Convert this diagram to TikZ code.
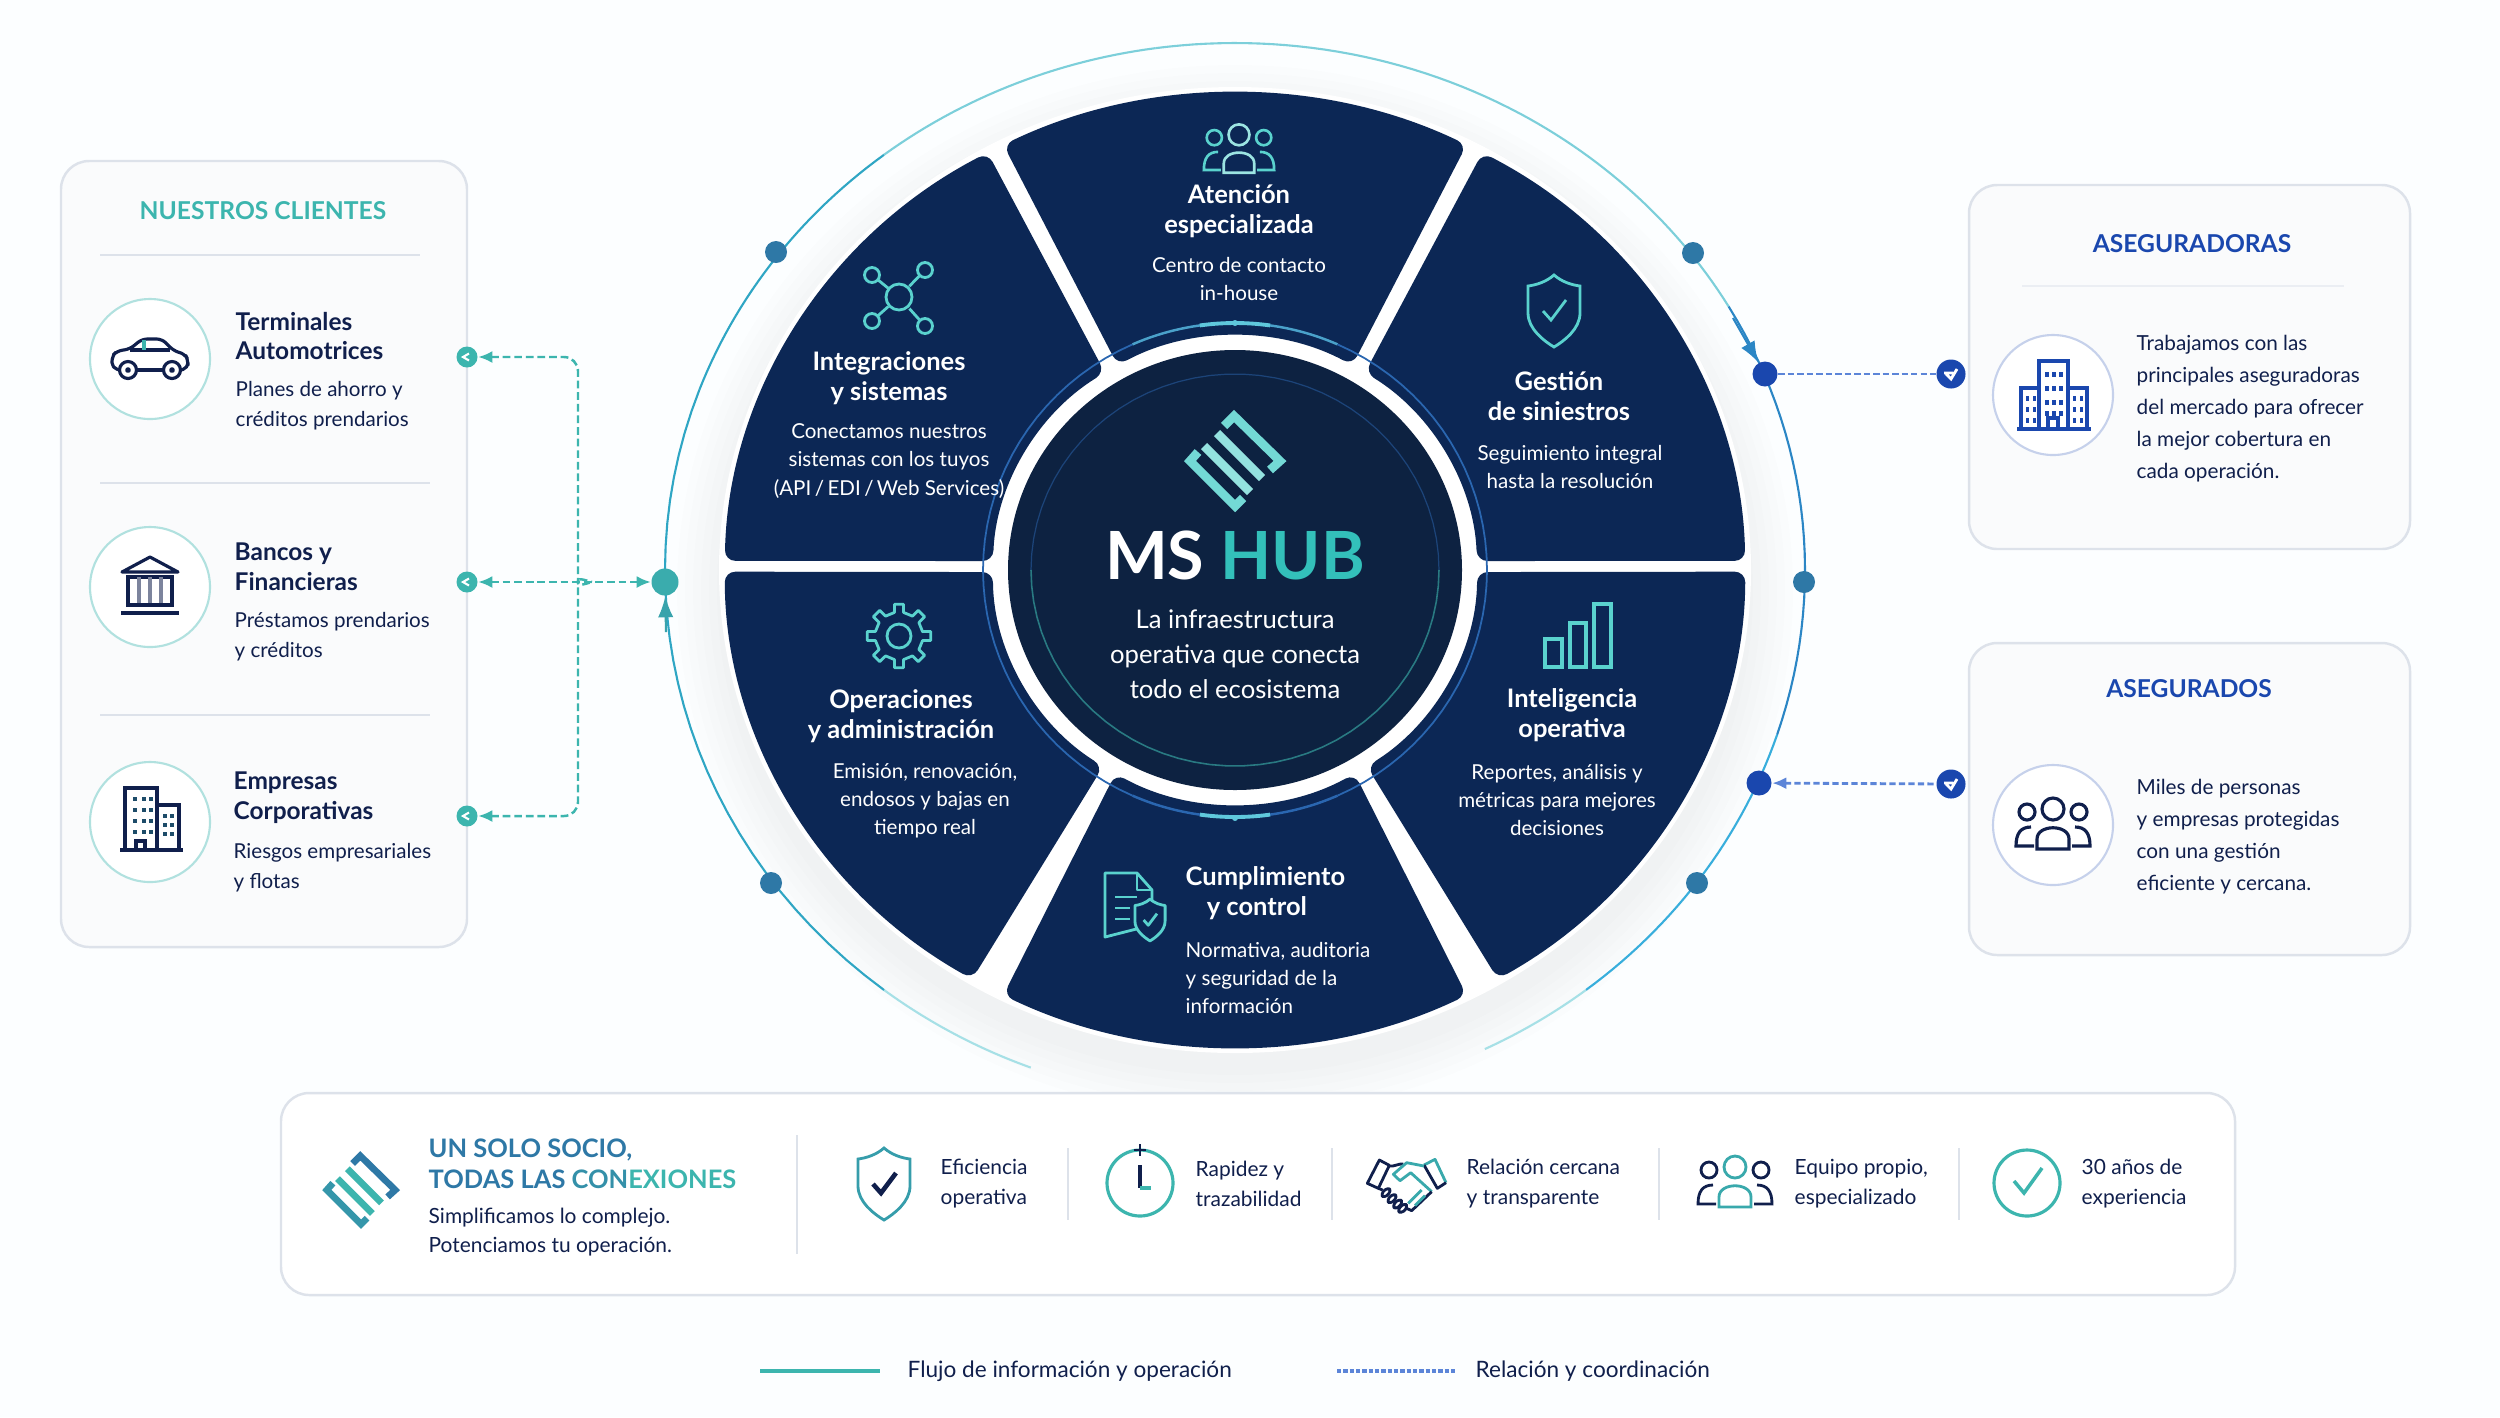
\documentclass[tikz,border=0pt]{standalone}
\usepackage{fontspec}
\setmainfont{Lato}
\usepackage{xcolor}
\usetikzlibrary{arrows.meta}
\definecolor{navy}{HTML}{101F4C}
\definecolor{segnavy}{HTML}{0C2755}
\definecolor{hubnavy}{HTML}{0D2241}
\definecolor{tealc}{HTML}{3CB5AE}
\definecolor{icont}{HTML}{5AD2CE}
\definecolor{bluec}{HTML}{1A47AE}
\definecolor{dashblue}{HTML}{5C85D8}
\definecolor{dotc}{HTML}{2E78A6}
\definecolor{linec}{HTML}{DDE2EA}
\definecolor{panelc}{HTML}{FAFBFC}
\definecolor{ringpale}{HTML}{A6E0E6}
\definecolor{ringteal}{HTML}{2FA6C4}
\definecolor{ringtop}{HTML}{7CCFDA}
\definecolor{ringblue}{HTML}{2B86C5}
\definecolor{ringsky}{HTML}{38AEDC}
\definecolor{hubblue}{HTML}{2A66B0}
\definecolor{hubcyan}{HTML}{5FC8DC}
% logo, position, scale, line width, colours
\newcommand{\logomark}[7]{%
  \begin{scope}[shift={(#1,#2)},scale=#3,line width=#4,miter limit=4]
    \draw[#5] (-11,-35) -- (-1,-45) -- (45,0) -- (35,9);
    \draw[#6] (-37,-9) -- (-45,0) -- (0,45) -- (8,37);
    \draw[#7] (-18,-28) -- (27,17);
    \draw[#7] (-31,-15) -- (15,31);
  \end{scope}}
% team, position, scale, colours
\newcommand{\teamicon}[5]{%
  \begin{scope}[shift={(#1,#2)},scale=#3]
    \draw[#4] (0,-16) circle (11);
    \draw[#5] (-26,-13) circle (8) (26,-13) circle (8);
    \draw[#4] (-16,24) -- (-16,14) .. controls (-16,-1) and (16,-1) .. (16,14) -- (16,24) -- cycle;
    \draw[#5] (-22,2) .. controls (-32,2) and (-37,8) .. (-37,21) -- (-19,21);
    \draw[#5] (22,2) .. controls (32,2) and (37,8) .. (37,21) -- (19,21);
  \end{scope}}
% shield, position, scale, colours, fill
\newcommand{\shieldicon}[6]{%
  \begin{scope}[shift={(#1,#2)},scale=#3]
    \draw[#4,fill=#6] (0,-36) .. controls (8,-29) and (18,-26) .. (26,-25) -- (26,2)
      .. controls (26,18) and (10,30) .. (0,36) .. controls (-10,30) and (-26,18) .. (-26,2)
      -- (-26,-25) .. controls (-18,-26) and (-8,-29) .. cycle;
    \draw[#5] (-11,0) -- (-3,9) -- (12,-11);
  \end{scope}}
% one wheel segment: outer angles, inner angles
\newcommand{\segment}[4]{%
  \fill[segnavy,rounded corners=3pt] (#1:5.10cm and 4.77cm)
    arc[start angle=#1,end angle=#2,x radius=5.10cm,y radius=4.77cm]
    -- (#3:2.42cm and 2.34cm)
    arc[start angle=#3,end angle=#4,x radius=2.42cm,y radius=2.34cm] -- cycle;}

\begin{document}
\begin{tikzpicture}[x=0.01cm,y=-0.01cm,>=Latex,
    every node/.style={inner sep=0pt,text=navy},
    paneltitle/.style={font=\fontsize{7}{9}\selectfont\bfseries},
    clientname/.style={anchor=west,align=left,font=\fontsize{6.95}{8.5}\selectfont\bfseries},
    clientdesc/.style={anchor=west,align=left,font=\fontsize{5.85}{8.5}\selectfont},
    segtitle/.style={align=center,text=white,font=\fontsize{7.25}{8.4}\selectfont\bfseries},
    segdesc/.style={align=center,text=white,font=\fontsize{5.85}{8}\selectfont},
    bartext/.style={anchor=west,align=left,font=\fontsize{5.95}{8.5}\selectfont},
    sidetext/.style={anchor=west,align=left,font=\fontsize{5.9}{9.1}\selectfont},
    legendtext/.style={anchor=west,font=\fontsize{6.42}{8}\selectfont},
    panelbox/.style={draw=linec,line width=0.7pt,fill=#1,rounded corners=8pt},
    iconcircle/.style={draw=#1,line width=0.6pt,fill=white},
    divline/.style={linec,line width=0.5pt},
    tealdot/.style={circle,fill=tealc,minimum size=0.21cm},
    ringdot/.style={circle,fill=dotc,minimum size=0.22cm},
    bluedot/.style={circle,fill=bluec,minimum size=#1},
    tealflow/.style={tealc,line width=0.7pt,dash pattern=on 2.2pt off 1.1pt},
    blueflow/.style={dashblue,line width=0.8pt,dash pattern=on 1.8pt off 0.9pt},
    tealtip/.style={tealc,{Latex[length=4pt,width=3.4pt]}-},
  ]
  \useasboundingbox (0,0) rectangle (2500,1417);
  \fill[white!99!cyan] (0,0) rectangle (2500,1417);

  % left panel
  \draw[panelbox=panelc] (61,161) rectangle (467,947);
  \node[paneltitle,text=tealc] (clientes) at (263,211) {NUESTROS CLIENTES};
  \draw[divline] (100,255) -- (420,255);
  \draw[divline] (100,483) -- (430,483);
  \draw[divline] (100,715) -- (430,715);
  \foreach \cy in {359,587,822}
    \draw[iconcircle=tealc!40] (150,\cy) circle (60);
  \node[clientname] (terminales) at (235,336) {Terminales\\Automotrices};
  \node[clientdesc] (terminalesd) at (235,406) {Planes de ahorro y\\créditos prendarios};
  \node[clientname] (bancos) at (234,567) {Bancos y\\Financieras};
  \node[clientdesc] (bancosd) at (234,637) {Préstamos prendarios\\y créditos};
  \node[clientname] (empresas) at (233,798) {Empresas\\Corporativas};
  \node[clientdesc] (empresasd) at (233,868) {Riesgos empresariales\\y flotas};
  % car
  \begin{scope}[shift={(150,359)},navy,line width=0.9pt,line join=round]
    \draw[rounded corners=1.5pt] (-30,11) -- (-38,9) -- (-38,-3) -- (-33,-8) -- (-20,-10) -- (-8,-20) -- (12,-20) -- (24,-8) -- (35,-5) -- (38,1) -- (38,9) -- (31,11);
    \draw (-13,11) -- (13,11);
    \draw (-22,11) circle (8.5) (22,11) circle (8.5);
    \draw[fill=navy] (-22,11) circle (1.5) (22,11) circle (1.5);
    \draw (-20,-9) -- (20,-9);
    \draw[tealc] (-6,-19) -- (-6,-9);
  \end{scope}
  % bank
  \begin{scope}[shift={(150,585)},navy,line width=0.9pt,line join=round]
    \draw (-28,-13) -- (0,-28) -- (28,-13) -- cycle;
    \draw (-24,-8) -- (24,-8);
    \foreach \cx in {-22,22} \draw (\cx,-8) -- (\cx,20);
    \foreach \cx in {-11,0,11} \draw[navy!55] (\cx,-8) -- (\cx,20);
    \draw (-24,20) -- (24,20);
    \draw[line width=1.3pt] (-29,28) -- (29,28);
  \end{scope}
  % office block
  \begin{scope}[shift={(150,819)},navy,line width=0.9pt]
    \draw (-25,31) -- (-25,-31) -- (7,-31) -- (7,31);
    \draw (7,-14) -- (29,-14) -- (29,31);
    \draw (-30,31) -- (33,31);
    \foreach \wy in {-22,-11,0,11}
      \foreach \wx in {-17,-8,-1}
        \fill[navy!70!tealc] (\wx,\wy) rectangle +(4,4);
    \foreach \wy in {-5,4,13}
      \foreach \wx in {13,20}
        \fill[navy!70!tealc] (\wx,\wy) rectangle +(4,4);
    \draw (-14,31) -- (-14,22) -- (-5,22) -- (-5,31);
  \end{scope}

  % wheel
  \foreach \grow in {8,16,...,48}
    \fill[navy,opacity=0.008] (1235,590) ellipse ({510+\grow} and {477+\grow});
  \fill[white] (1235,570) ellipse (516 and 483);
  \foreach \ta/\tb/\tc in {111/128/ringpale,128/200/ringteal,200/232/ringteal,232/262/ringtop,262/300/ringtop,300/330/ringtop,330/378/ringblue,378/412/ringsky,412/424/ringpale}
    \draw[\tc,line width=0.6pt] plot[domain=\ta:\tb,samples=30] ({1235+570*cos(\x)},{570+(sin(\x)>0?533:527)*sin(\x)});
  \begin{scope}[shift={(1235,570)}]
    \segment{178.9}{119}{122.5}{177.8}
    \segment{117}{63}{61}{119}
    \segment{1.1}{61}{57.5}{2.2}
    \segment{180.2}{239}{237}{180.5}
    \segment{243}{297}{299.6}{240.4}
    \segment{-0.2}{-59}{-57}{-0.5}
    \fill[hubnavy] (0,0) ellipse (227 and 220);
  \end{scope}
  % rings round the hub
  \foreach \ta/\tb/\tc/\lw in {0/66/hubblue/0.5,66/82/hubblue/0.7,82/98/hubcyan/1.1,98/114/hubblue/0.7,114/180/hubblue/0.5,180/246/hubblue/0.5,246/262/hubcyan!60!hubblue/0.7,262/278/hubcyan/1.1,278/294/hubcyan!60!hubblue/0.7,294/360/hubblue/0.5}
    \draw[\tc,line width=\lw pt] plot[domain=\ta:\tb,samples=20] ({1235+252*cos(\x)},{570+247*sin(\x)});
  \draw[hubblue!50!hubnavy,line width=0.35pt] plot[domain=180:360,samples=40] ({1235+204*cos(\x)},{570+196*sin(\x)});
  \draw[tealc!60!hubnavy,line width=0.45pt] plot[domain=0:180,samples=40] ({1235+204*cos(\x)},{570+196*sin(\x)});

  % hub text
  \logomark{1235}{461}{1}{2.5pt}{icont!85!white}{icont!85!white}{icont!65!white}
  \node[text=white,font=\fontsize{18.9}{22}\selectfont\bfseries] (mshub) at (1235,555) {MS \textcolor{tealc!85!cyan}{HUB}};
  \node[align=center,text=white,font=\fontsize{7.3}{9.9}\selectfont] (hubtext) at (1235,654) {La infraestructura\\operativa que conecta\\todo el ecosistema};

  % segment texts
  \node[segtitle] (atencion) at (1239,211) {Atención\\especializada};
  \node[segdesc] (atenciond) at (1239,279) {Centro de contacto\\in-house};
  \node[segtitle] (integra) at (889,378) {Integraciones\\y sistemas};
  \node[segdesc] (integrad) at (889,461) {Conectamos nuestros\\sistemas con los tuyos\\(API\,/\,EDI\,/\,Web Services)};
  \node[segtitle] (gestion) at (1559,396) {Gestión\\de siniestros};
  \node[segdesc] (gestiond) at (1570,467) {Seguimiento integral\\hasta la resolución};
  \node[segtitle] (opera) at (901,716) {Operaciones\\y administración};
  \node[segdesc] (operad) at (925,801) {Emisión, renovación,\\endosos y bajas en\\tiempo real};
  \node[segtitle] (intel) at (1572,715) {Inteligencia\\operativa};
  \node[segdesc] (inteld) at (1557,800) {Reportes, análisis y\\métricas para mejores\\decisiones};
  \node[segtitle,anchor=west,align=left] (cumple) at (1185,893) {Cumplimiento\\\hspace*{6pt}y control};
  \node[segdesc,anchor=west,align=left] (cumpled) at (1185,978) {Normativa, auditoria\\y seguridad de la\\información};

  % segment icons
  \teamicon{1239}{150}{0.95}{icont!60!white,line width=0.75pt}{icont,line width=0.75pt}
  \begin{scope}[shift={(899,297)},icont,line width=0.8pt]
    \draw (0,0) circle (13);
    \foreach \px/\py in {-27/-22,26/-27,-27/24,26/29} {
      \draw (\px,\py) circle (7.5);
      \draw (0.4*\px,0.4*\py) -- (0.78*\px,0.78*\py);
    }
  \end{scope}
  \shieldicon{1554}{311}{1}{icont,line width=0.8pt}{icont,line width=0.8pt}{segnavy}
  \begin{scope}[shift={(899,636)},icont,line width=0.8pt,line join=round]
    \draw (-10:24) \foreach \a in {0,45,...,315} { -- (\a-11:24) -- (\a-8:32) -- (\a+8:32) -- (\a+11:24) } -- cycle;
    \draw (0,0) circle (12);
  \end{scope}
  \draw[icont,line width=0.9pt] (1545,639) rectangle (1562,667) (1570,623) rectangle (1586,667) (1594,604) rectangle (1611,667);
  \begin{scope}[icont,line width=0.8pt,line join=round]
    \draw (1105,873) -- (1137,873) -- (1152,890) -- (1152,925) -- (1105,937) -- cycle;
    \draw (1137,873) -- (1137,890) -- (1152,890);
    \draw (1115,897) -- (1137,897) (1115,908) -- (1130,908) (1115,919) -- (1130,919);
    \shieldicon{1150}{920}{0.58}{icont}{icont}{segnavy}
  \end{scope}

  % outer ring points
  \node[ringdot] (ringa) at (776,252) {};
  \node[ringdot] (ringb) at (1693,253) {};
  \node[ringdot] (ringc) at (771,883) {};
  \node[ringdot] (ringd) at (1697,883) {};
  \node[ringdot] (ringe) at (1804,582) {};
  \node[tealdot,minimum size=0.27cm,fill=tealc!85!dotc] (hubport) at (665,582) {};
  \node[bluedot=0.25cm] (seguros) at (1765,374) {};
  \node[bluedot=0.25cm] (asegura) at (1759,783) {};
  \coordinate (ringtail) at (1733,318);
  \coordinate (porttail) at (666,632);
  \draw[ringblue,line width=0.6pt,-{Latex[length=6pt,width=4.4pt]}] (ringtail) -- (seguros);
  \draw[tealc!70!dotc,line width=0.6pt,-{Latex[length=6pt,width=4.4pt]}] (porttail) -- (hubport);

  % left connectors
  \node[tealdot] (clienta) at (467,357) {};
  \node[tealdot] (clientb) at (467,582) {};
  \node[tealdot] (clientc) at (467,816) {};
  \coordinate (busup) at (578,570);
  \coordinate (busdown) at (578,594);
  \coordinate (busmid) at (592,582);
  \draw[tealflow,tealtip,rounded corners=4pt] (clienta) -| (busup) .. controls (578,578) .. (busmid);
  \draw[tealflow,tealtip,rounded corners=4pt] (clientc) -| (busdown) .. controls (578,586) .. (busmid);
  \draw[tealflow,{Latex[length=4pt,width=3.4pt]}-{Latex[length=4pt,width=3.4pt]}] (clientb) -- (hubport);
  \foreach \dy in {357,582,816}
    \draw[white,line width=0.6pt] (469,\dy-3.5) -- (463,\dy) -- (469,\dy+3.5);

  % right panels
  \draw[panelbox=panelc] (1969,185) rectangle (2410,549);
  \draw[panelbox=panelc] (1969,643) rectangle (2410,955);
  \node[paneltitle,text=bluec] (aseguradoras) at (2192,244) {ASEGURADORAS};
  \draw[divline,linec!60] (2022,286) -- (2344,286);
  \node[paneltitle,text=bluec] (asegurados) at (2189,689) {ASEGURADOS};
  \draw[iconcircle=bluec!25] (2053,395) circle (60);
  \draw[iconcircle=bluec!25] (2053,825) circle (60);
  \node[sidetext] (trabajamos) at (2136,409) {Trabajamos con las\\principales aseguradoras\\del mercado para ofrecer\\la mejor cobertura en\\cada operación.};
  \node[sidetext] (miles) at (2136,837) {Miles de personas\\y empresas protegidas\\con una gestión\\eficiente y cercana.};
  \begin{scope}[bluec,line width=0.9pt]
    \draw (2039,429) -- (2039,361) -- (2068,361) -- (2068,429);
    \draw (2039,388) -- (2021,388) -- (2021,429) (2068,388) -- (2087,388) -- (2087,429);
    \draw (2017,429) -- (2091,429);
    \foreach \wy in {372,386,400,411}
      \foreach \wx in {2045,2052,2059}
        \fill (\wx,\wy) rectangle +(4,5);
    \foreach \wy in {396,407,418}
      \foreach \wx in {2026,2033,2073,2080}
        \fill (\wx,\wy) rectangle +(3,5);
    \draw (2048,429) -- (2048,418) -- (2058,418) -- (2058,429);
  \end{scope}
  \teamicon{2053}{825}{1}{navy,line width=0.9pt}{navy,line width=0.9pt}

  % right connectors
  \node[bluedot=0.29cm] (linka) at (1951,374) {};
  \node[bluedot=0.29cm] (linkb) at (1951,784) {};
  \draw[blueflow] (seguros) -- (linka);
  \draw[blueflow,{Latex[length=4pt,width=3.4pt]}-] (asegura) -- (linkb);
  \foreach \dy in {374,784}
    \draw[white,line width=0.8pt] (1946,\dy+0) -- (1951,\dy+5) -- (1957,\dy-5) (1944,\dy-1) -- (1953,\dy-1);
  \fill[hubcyan] (1235,323) circle (3);
  \fill[hubcyan] (1235,818) circle (3);

  % bottom panel
  \draw[panelbox=white] (281,1093) rectangle (2235,1295);
  \logomark{361}{1190}{0.76}{1.9pt}{dotc}{dotc!50!tealc}{tealc}
  \node[anchor=west,align=left,text=dotc,font=\fontsize{7.24}{8.8}\selectfont\bfseries] (socio) at (428,1164) {UN SOLO SOCIO,\\TODAS LAS \textcolor{dotc!60!tealc}{CON}\textcolor{tealc}{EXIONES}};
  \node[anchor=west,align=left,font=\fontsize{5.95}{8.2}\selectfont] (simple) at (428,1232) {Simplificamos lo complejo.\\Potenciamos tu operación.};
  \draw[divline] (797,1135) -- (797,1254);
  \foreach \dx in {1068,1332,1659,1959}
    \draw[divline] (\dx,1148) -- (\dx,1220);
  \shieldicon{884}{1184}{1}{tealc!60!dotc,line width=0.8pt}{navy,line width=1.3pt}{white}
  \node[bartext] (eficiencia) at (940,1184) {Eficiencia\\operativa};
  \draw[tealc,line width=0.9pt] (1140,1183) circle (33);
  \draw[navy,line width=0.9pt] (1140,1165) -- (1140,1188);
  \draw[tealc,line width=0.9pt] (1140,1188) -- (1151,1188);
  \draw[navy,line width=0.7pt] (1140,1144) -- (1140,1156) (1134,1150) -- (1146,1150);
  \node[bartext] (rapidez) at (1195,1184) {Rapidez y\\trazabilidad};
  % handshake
  \begin{scope}[shift={(1350,1140)},scale=0.3333,line width=0.8pt,line join=round]
    \draw[navy] (52,130) -- (88,60) -- (118,76) -- (85,145) -- cycle;
    \draw[tealc!80!dotc] (222,75) -- (255,58) -- (288,128);
    \draw[navy] (288,128) -- (262,145) -- (222,75);
    \draw[navy] (118,78) .. controls (135,80) and (145,70) .. (160,72);
    \draw[tealc!80!dotc] (222,78) -- (170,68) -- (130,103) -- (150,122) -- (182,98) -- (245,155);
    \draw[navy] (245,155) -- (185,212) -- (170,205);
    \draw[navy] (85,145) -- (98,150);
    \foreach \px/\py in {108/158,126/176,143/192,158/205}
      \draw[navy,shift={(\px,\py)},rotate=-45,rounded corners=1pt] (-8,-15) rectangle (8,15);
    \draw[tealc!80!dotc] (175,190) -- (215,150) (195,197) -- (225,167);
  \end{scope}
  \node[bartext] (relacion) at (1466,1184) {Relación cercana\\y transparente};
  \teamicon{1735}{1183}{1}{tealc!80!dotc,line width=0.8pt}{navy,line width=0.8pt}
  \node[bartext] (equipo) at (1794,1184) {Equipo propio,\\especializado};
  \draw[tealc,line width=0.9pt] (2027,1183) circle (33);
  \draw[tealc,line width=1pt] (2014,1181) -- (2024,1193) -- (2042,1168);
  \node[bartext] (anos) at (2081,1184) {30 años de\\experiencia};

  % legend
  \draw[tealc,line width=1.1pt] (760,1371) -- (880,1371);
  \draw[dashblue,line width=1.1pt,dash pattern=on 1.2pt off 0.6pt] (1337,1371) -- (1456,1371);
  \node[legendtext] (flujo) at (907,1371) {Flujo de información y operación};
  \node[legendtext] (coord) at (1475,1371) {Relación y coordinación};
\end{tikzpicture}
\end{document}
